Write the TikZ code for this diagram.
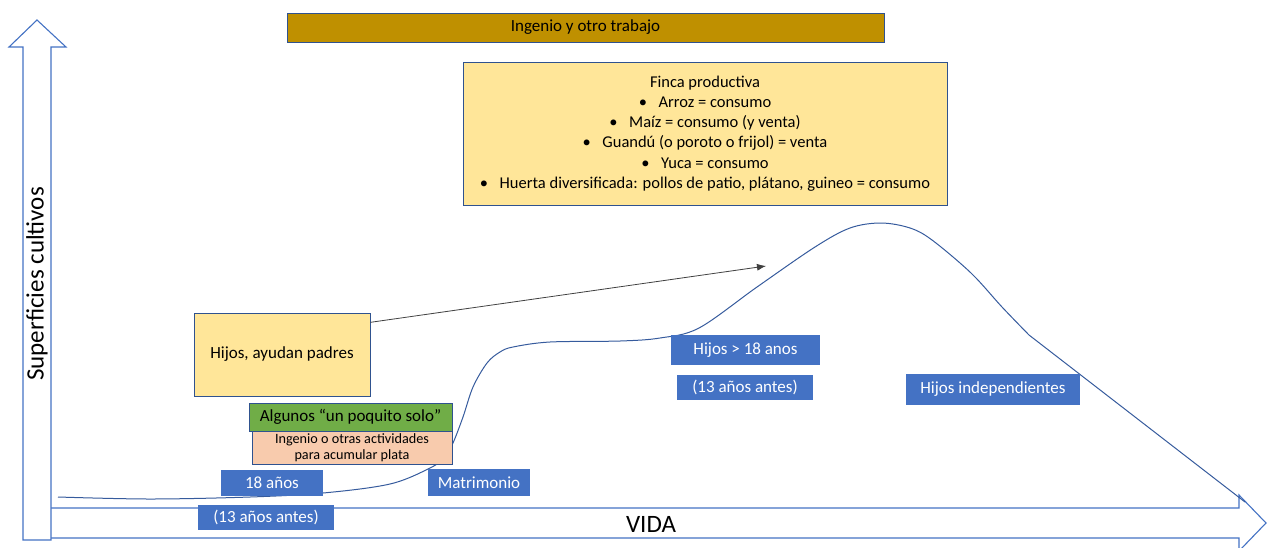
\documentclass[tikz,border=0pt]{standalone}
\usepackage{fontspec}
\setmainfont{Carlito}
\usetikzlibrary{arrows.meta}
\definecolor{gold}{HTML}{BF9000}
\definecolor{lyellow}{HTML}{FFE699}
\definecolor{lgreen}{HTML}{70AD47}
\definecolor{peach}{HTML}{F8CBAD}
\definecolor{oblue}{HTML}{4472C4}
\definecolor{dblue}{HTML}{2F528F}
\newcommand{\bul}{•\hspace{0.7em}}
\tikzset{
  box/.style={draw=dblue, line width=0.8pt, inner sep=0pt, align=center, text=black},
  bluebox/.style={fill=oblue, draw=none, inner sep=0pt, text=white, font=\fontsize{17}{20}\selectfont},
  bigarrow/.style={draw=oblue, fill=white, line width=1.1pt},
}
\begin{document}
\begin{tikzpicture}[x=1pt,y=-1pt]
\useasboundingbox (0,0) rectangle (1268,547);
% axes
\draw[bigarrow] (51,508) -- (1239,508) -- (1239,495) -- (1266,523) -- (1239,551) -- (1239,538) -- (51,538);
\draw[bigarrow] (23,540) -- (23,47) -- (9,47) -- (37,20) -- (66,47) -- (51,47) -- (51,540) -- cycle;
\node[rotate=90, font=\fontsize{25}{28}\selectfont] (ylab) at (37,284) {Superficies cultivos};
\node[font=\fontsize{25}{28}\selectfont] (xlab) at (651,524) {VIDA};
% top boxes
\node[box, fill=gold, minimum width=597pt, minimum height=29pt, font=\fontsize{17}{20}\selectfont] (ingenio) at (585.5,27.5) {Ingenio y otro trabajo};
\node[box, fill=lyellow, minimum width=484pt, minimum height=143pt, font=\fontsize{16.5}{20.2}\selectfont] (finca) at (705,133.5)
 {Finca productiva\\ \bul Arroz = consumo\\ \bul Maíz = consumo (y venta)\\ \bul Guandú (o poroto o frijol) = venta\\ \bul Yuca = consumo\\ \bul Huerta diversificada: pollos de patio, plátano, guineo = consumo};
% curve
\draw[oblue!80!black, line width=1pt] plot[smooth, tension=0.55] coordinates {
 (58,497) (150,499) (250,497) (323,493) (390,484) (430,468) (445,457) (453,443) (463,417) (473,387) (487,363) (500,352) (513,347) (550,342) (620,341) (660,338) (699,328) (757,287) (815,247) (850,228) (881,223) (910,228) (932,240) (971,273) (1002,307) (1029,335)} -- (1245,502);
% left boxes
\node[box, fill=lyellow, minimum width=176pt, minimum height=83pt, font=\fontsize{17}{20}\selectfont] (hijos) at (282,354.5) {Hijos, ayudan padres};
\node[box, fill=peach, minimum width=200pt, minimum height=33pt, font=\fontsize{14.2}{16}\selectfont] (otras) at (352,447.5) {Ingenio o otras actividades\\para acumular plata};
\node[box, fill=lgreen, minimum width=203pt, minimum height=28pt, font=\fontsize{17}{20}\selectfont] (algunos) at (350.5,417) {Algunos “un poquito solo\symbol{34}};
% blue labels
\node[bluebox, minimum width=102pt, minimum height=26pt] (a18) at (272,483) {18 años};
\node[bluebox, minimum width=136pt, minimum height=25pt] (antes1) at (266,517.5) {(13 años antes)};
\node[bluebox, minimum width=102pt, minimum height=27pt] (matri) at (479,482.5) {Matrimonio};
\node[bluebox, minimum width=149pt, minimum height=30pt] (h18) at (745.5,350) {Hijos > 18 anos};
\node[bluebox, minimum width=136pt, minimum height=25pt] (antes2) at (745,387) {(13 años antes)};
\node[bluebox, minimum width=174pt, minimum height=31pt] (indep) at (993,389) {Hijos independientes};
% arrow
\coordinate (tipA) at (766,266);
\draw[black!75, line width=0.8pt, -{Latex[length=9pt,width=7pt]}] (hijos.20) -- (tipA);
\end{tikzpicture}
\end{document}
